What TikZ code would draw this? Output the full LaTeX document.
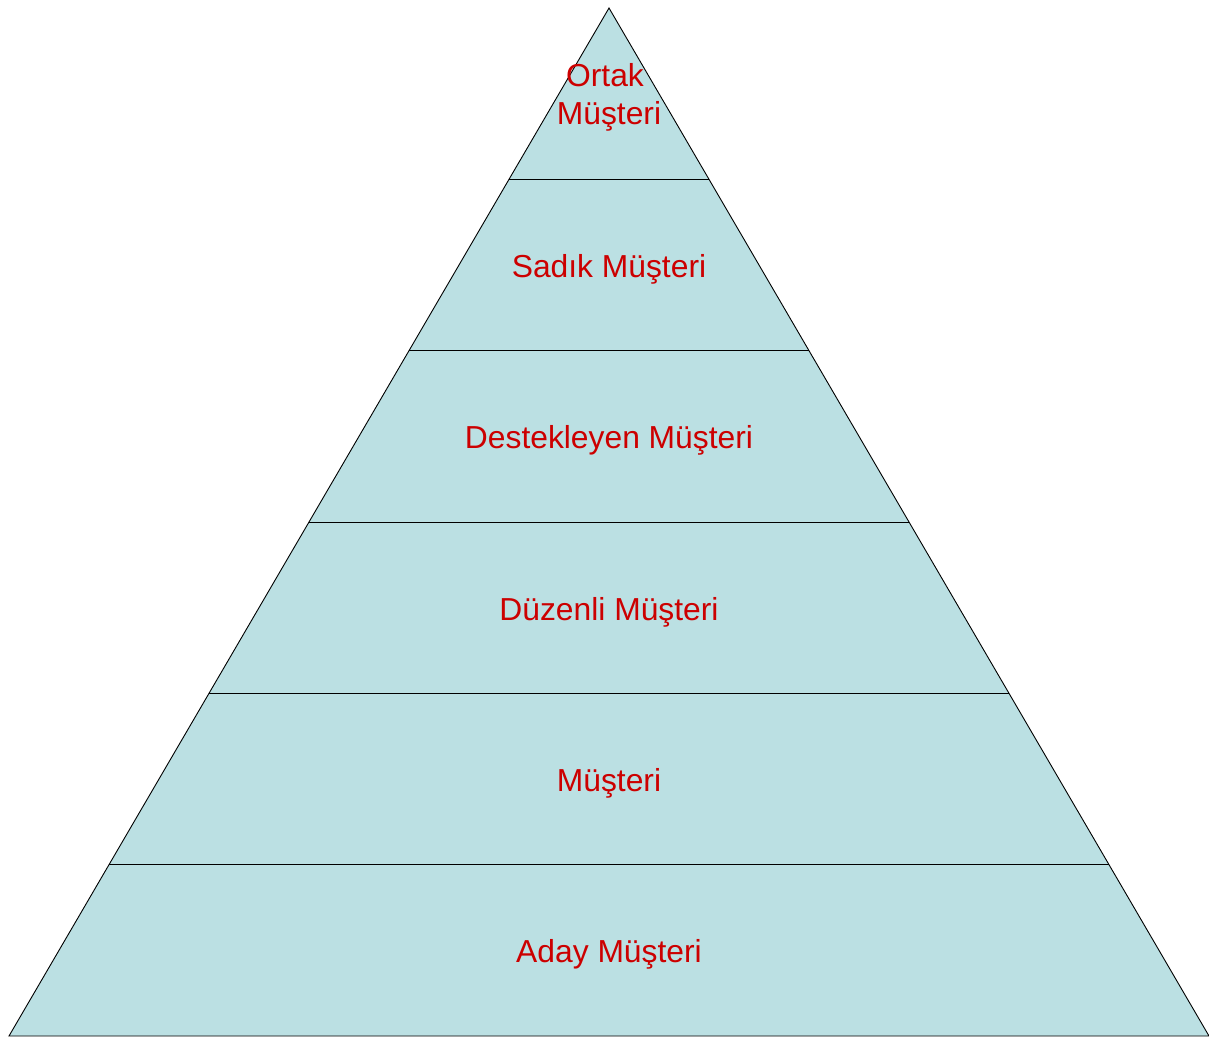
\documentclass[tikz,border=0pt]{standalone}
\usepackage{fontspec}
\setmainfont{Liberation Sans}
\usetikzlibrary{calc}
\definecolor{layerfill}{RGB}{187,224,227}
\definecolor{labelred}{RGB}{204,0,0}
\begin{document}
\begin{tikzpicture}[x=1pt,y=-1pt,
  lbl/.style={text=labelred, font=\fontsize{31.8}{38}\selectfont, align=center, inner sep=0pt},
  edge/.style={draw=black, line width=0.9pt}]
\useasboundingbox (0,0) rectangle (1209,1038);
\coordinate (apex) at (609,8);
\coordinate (bl) at (9,1036);
\coordinate (br) at (1209,1036);
\fill[layerfill] (apex) -- (br) -- (bl) -- cycle;
\foreach \k in {1,...,5}{
  \coordinate (l\k) at ($(apex)!\k/6!(bl)$);
  \coordinate (r\k) at ($(apex)!\k/6!(br)$);
  \draw[edge] (l\k) -- (r\k);
}
\draw[edge, line join=miter] (apex) -- (br) -- (bl) -- cycle;
\node[lbl] (t1) at (609,97) {Ortak\kern8pt\\Müşteri};
\node[lbl] (t2) at (609,269) {Sadık Müşteri};
\node[lbl] (t3) at (609,440) {Destekleyen Müşteri};
\node[lbl] (t4) at (609,612) {Düzenli Müşteri};
\node[lbl] (t5) at (609,783) {Müşteri};
\node[lbl] (t6) at (609,954) {Aday Müşteri};
\end{tikzpicture}
\end{document}
